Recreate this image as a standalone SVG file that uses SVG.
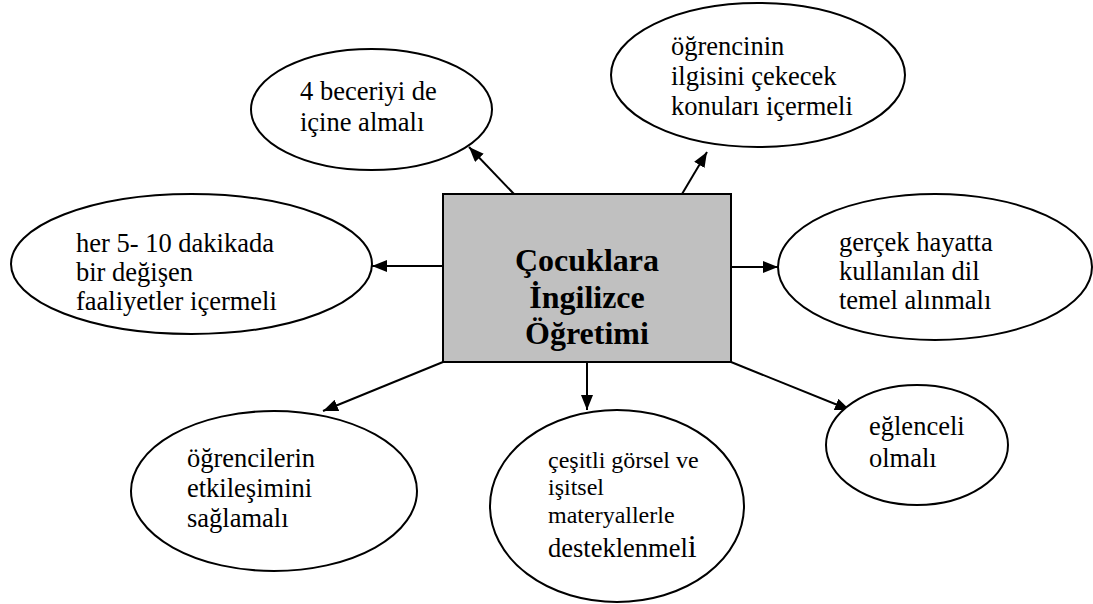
<svg xmlns="http://www.w3.org/2000/svg" width="1093" height="604" viewBox="0 0 1093 604">
<style>
.e{fill:#fff;stroke:#000;stroke-width:2}
.t{font-size:26.5px;fill:#000}
.s{font-size:24px}
.c{font-size:32px;font-weight:bold;fill:#000;text-anchor:middle}
.l{stroke:#000;stroke-width:2;fill:none;marker-end:url(#a)}
</style>
<defs>
<marker id="a" markerUnits="userSpaceOnUse" markerWidth="15" markerHeight="12" refX="15" refY="6" orient="auto">
<path d="M0,0 L15,6 L0,12 z" fill="#000"/>
</marker>
</defs>
<rect width="1093" height="604" fill="#fff"/>
<g id="connectors">
<line class="l" x1="514" y1="194" x2="469" y2="147"/>
<line class="l" x1="682" y1="194" x2="707" y2="152"/>
<line class="l" x1="443" y1="266" x2="372" y2="266"/>
<line class="l" x1="731" y1="267" x2="778" y2="267"/>
<line class="l" x1="443" y1="362" x2="323" y2="411"/>
<line class="l" x1="587" y1="362" x2="587" y2="410"/>
<line class="l" x1="731" y1="362" x2="850" y2="410"/>
</g>
<g font-family="Liberation Serif, DejaVu Serif, Times New Roman, serif">
<g id="center">
<rect x="443" y="194" width="288" height="168" fill="#c0c0c0" stroke="#000" stroke-width="2"/>
<text class="c" x="587" y="271">Çocuklara</text>
<text class="c" x="587" y="308">İngilizce</text>
<text class="c" x="587" y="344">Öğretimi</text>
</g>
<g id="n1">
<ellipse class="e" cx="371.5" cy="109.5" rx="120.5" ry="60.5"/>
<text class="t" x="300" y="100">4 beceriyi de</text>
<text class="t" x="300" y="131">içine almalı</text>
</g>
<g id="n2">
<ellipse class="e" cx="758" cy="75" rx="147" ry="72"/>
<text class="t" x="671" y="55">öğrencinin</text>
<text class="t" x="671" y="85">ilgisini çekecek</text>
<text class="t" x="671" y="115">konuları içermeli</text>
</g>
<g id="n3">
<ellipse class="e" cx="191.5" cy="264" rx="180.5" ry="70"/>
<text class="t" x="76" y="252">her 5- 10 dakikada</text>
<text class="t" x="76" y="281">bir değişen</text>
<text class="t" x="76" y="310">faaliyetler içermeli</text>
</g>
<g id="n4">
<ellipse class="e" cx="935" cy="267" rx="157" ry="73"/>
<text class="t" x="839" y="251">gerçek hayatta</text>
<text class="t" x="839" y="280">kullanılan dil</text>
<text class="t" x="839" y="309">temel alınmalı</text>
</g>
<g id="n5">
<ellipse class="e" cx="274" cy="491" rx="143" ry="80"/>
<text class="t" x="187" y="467">öğrencilerin</text>
<text class="t" x="187" y="497">etkileşimini</text>
<text class="t" x="187" y="527">sağlamalı</text>
</g>
<g id="n6">
<ellipse class="e" cx="617" cy="506" rx="127" ry="96"/>
<text class="t s" x="548" y="468">çeşitli görsel ve</text>
<text class="t s" x="548" y="495">işitsel</text>
<text class="t s" x="548" y="523">materyallerle</text>
<text class="t" x="548" y="557">desteklenmel<tspan style="font-size:32px">i</tspan></text>
</g>
<g id="n7">
<ellipse class="e" cx="917" cy="445" rx="91" ry="60"/>
<text class="t" x="869" y="435">eğlenceli</text>
<text class="t" x="869" y="467">olmalı</text>
</g>
</g>
</svg>
